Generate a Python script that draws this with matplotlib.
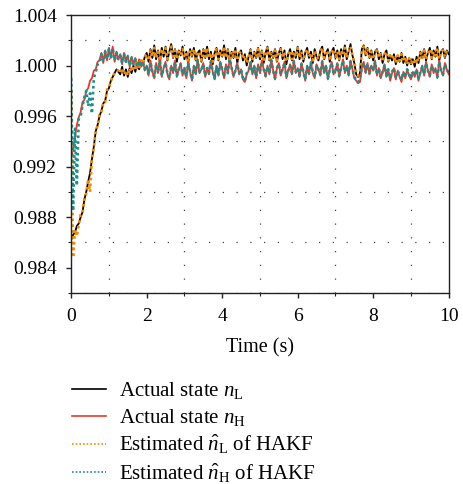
import numpy as np
import matplotlib
matplotlib.use("Agg")
import matplotlib.pyplot as plt
from matplotlib.ticker import MultipleLocator, FormatStrFormatter

# sampling step of the simulation (s)
dt = 0.05

# all series are deviations from 1.0 in units of 1e-4
n_l_dev = [
    # 0 - 1.25 s, rise
    -138, -134, -132, -127, -125, -120, -116, -106, -100, -92, -85, -74, -64,
    -52, -47, -40, -36, -30, -28, -20, -18, -12, -9, -6, -3, -5,
    # 1.3 - 1.95 s
    -7, -1, -8, -3, -9, -2, -6, 0, -5, 2, -3, 4, 1, 7,
    # 2.0 - 10.0 s
    10, 3, 13, 6, 16, 5, 12, 2, 14, 7,
    15, 4, 11, 17, 6, 13, 3, 12, 8, 15,
    5, 11, 2, 13, 7, 14, 4, 10, 12, 3,
    13, 6, 15, 5, 11, 1, 10, 14, 4, 12,
    7, 16, 5, 13, 3, 11, 6, 14, 2, 10,
    12, 4, 9, 0, 7, 13, 3, 11, 6, 14,
    5, 12, 2, 10, 15, 4, 11, 6, 13, 3,
    10, 14, 5, 12, 1, 9, 13, 4, 11, 6,
    15, 5, 12, 3, 10, 14, 6, 11, 2, 13,
    7, 4, 12, 15, 5, 10, 13, 3, 11, 14,
    6, 12, 4, 13, 7, 16, 5, 11, 17, 8,
    2, -7, -9, -6, 13, 16, 8, 14, 6, 12,
    4, 11, 13, 5, 10, 2, 9, 12, 3, 8,
    4, 9, 1, 8, 3, 10, 2, 7, 0, 6,
    1, 5, -1, 7, 2, 11, 6, 13, 4, 10,
    14, 5, 12, 7, 15, 4, 11, 13, 6, 12, 9,
]

n_h_dev = [
    -74, -65, -57, -47, -41, -37, -29, -27, -20, -18, -12, -10, -4, -3, 3, 4,
    10, 2, 12, 4, 14, 6, 15, 3, 11, 5,
    9, 1, 10, 3, 8, -1, 7, 1, 6, -2, 5, -1, 4, -4,
    0, -8, 4, -5, -10, 2, -6, 5, -9, -2,
    3, -7, -11, 0, -6, 4, -9, -3, 2, -8,
    -2, -10, 3, -5, -12, 0, -7, 5, -6, -3,
    2, -9, -2, -7, 4, -5, -11, 0, -8, 3,
    -3, -10, 1, -6, 6, -2, -9, -4, 2, -7,
    -3, -11, -13, -7, -4, 3, -7, 0, -10, 1,
    -6, 4, -3, -9, 0, -7, 5, -4, -11, -2,
    2, -8, -3, 3, -10, -4, 1, -7, 4, -6,
    -2, -9, 2, -5, -12, 0, -7, 3, -6, -10,
    1, -3, -8, 4, -6, 0, -11, -3, 3, -7,
    -4, 2, -9, -2, 5, -6, 0, -8, 4, -3,
    -10, -12, -14, -13, -2, 3, -6, 2, -7, 0,
    -4, 4, -8, -2, -10, -5, 1, -9, -3, -12,
    -6, -2, -11, -4, -9, -13, -5, -10, -3, -8,
    -11, -5, -9, -3, -12, -6, 0, -8, 3, -4,
    -9, 1, -6, -2, -10, 4, -4, -8, 2, -3, -7,
]

n_l_hat_dev = [
    -20, -152, -130, -135, -126, -118, -117, -105, -101, -90, -100, -73, -65,
    -51, -48, -39, -37, -29, -29, -19, -17, -13, -8, -6, -4, -4,
    -6, -2, -7, -4, -8, -2, -5, 0, -4, 2, -2, 4, 2, 7,
    9, 4, 12, 7, 14, 6, 11, 4, 13, 8,
    14, 5, 12, 15, 7, 12, 5, 11, 8, 13,
    6, 11, 3, 12, 8, 13, 5, 10, 11, 4,
    12, 7, 14, 6, 10, 3, 10, 13, 5, 11,
    8, 15, 6, 12, 4, 11, 7, 13, 4, 10,
    11, 5, 8, 2, 7, 12, 4, 10, 7, 13,
    6, 11, 3, 10, 14, 5, 10, 7, 12, 4,
    10, 13, 6, 11, 3, 9, 12, 5, 11, 7,
    14, 6, 11, 4, 10, 13, 7, 10, 4, 12,
    7, 5, 11, 14, 6, 10, 12, 4, 11, 13,
    7, 11, 5, 12, 8, 14, 6, 11, 15, 8,
    3, -5, -8, -5, 11, 15, 8, 13, 7, 11,
    5, 10, 12, 6, 9, 3, 9, 11, 4, 8,
    5, 8, 2, 8, 4, 9, 3, 7, 1, 6,
    2, 5, 1, 6, 3, 10, 6, 12, 5, 10,
    13, 6, 11, 8, 14, 5, 11, 12, 7, 11, 9,
]

n_h_hat_dev = [
    -10, -115, -50, -95, -42, -40, -32, -25, -20, -32, -22, -38, -10, -5, 1, 3,
    9, 3, 11, 5, 13, 6, 14, 4, 10, 5,
    8, 2, 9, 3, 7, 0, 6, 1, 5, -1, 4, -1, 3, -3,
    0, -7, 3, -5, -9, 1, -5, 4, -8, -2,
    2, -6, -10, 0, -5, 3, -8, -3, 1, -7,
    -2, -9, 2, -5, -11, -1, -6, 4, -5, -3,
    1, -8, -2, -6, 3, -5, -10, -1, -7, 2,
    -3, -9, 0, -6, 5, -2, -8, -4, 1, -6,
    -3, -10, -12, -6, -4, 2, -6, -1, -9, 0,
    -5, 3, -3, -8, -1, -6, 4, -4, -10, -2,
    1, -7, -3, 2, -9, -4, 0, -6, 3, -5,
    -2, -8, 1, -5, -11, -1, -6, 2, -5, -9,
    0, -3, -7, 3, -5, -1, -10, -3, 2, -6,
    -4, 1, -8, -2, 4, -5, -1, -7, 3, -3,
    -9, -11, -13, -11, -1, 2, -5, 1, -6, -1,
    -4, 3, -7, -2, -9, -5, 0, -8, -3, -10,
    -5, -2, -10, -4, -8, -11, -5, -9, -3, -7,
    -10, -5, -8, -3, -10, -5, -1, -7, 2, -4,
    -8, 0, -5, -2, -9, 3, -4, -7, 1, -3, -6,
]

labels = [
    r"Actual state $n_\mathrm{L}$",
    r"Actual state $n_\mathrm{H}$",
    r"Estimated $\hat{n}_\mathrm{L}$ of HAKF",
    r"Estimated $\hat{n}_\mathrm{H}$ of HAKF",
]
colors = ["#000000", "#e8392a", "#f58a07", "#1f8e8a"]
styles = ["-", "-", (0, (1, 1.2)), (0, (1, 1.2))]
widths = [1.3, 1.3, 1.9, 1.9]

plt.rcParams["font.family"] = ["Liberation Serif", "DejaVu Serif"]
plt.rcParams["mathtext.fontset"] = "custom"
plt.rcParams["mathtext.rm"] = "Liberation Serif"
plt.rcParams["mathtext.it"] = "Liberation Serif:italic"

series = [n_l_dev, n_h_dev, n_l_hat_dev, n_h_hat_dev]
n = len(n_l_dev)
assert all(len(s) == n for s in series), [len(s) for s in series]
t = np.arange(n) * dt

fig = plt.figure(figsize=(4.64, 4.84), dpi=100)
ax = fig.add_axes([0.1534, 0.3946, 0.8136, 0.5744])

lines = []
for s, c, ls, lw, lab in zip(series, colors, styles, widths, labels):
    y = 1.0 + np.array(s) * 1e-4
    ln, = ax.plot(t, y, color=c, linestyle=ls, linewidth=lw, label=lab)
    lines.append(ln)

ax.set_xlim(0, 10)
ax.set_ylim(0.982, 1.004)
ax.xaxis.set_major_locator(MultipleLocator(2))
ax.xaxis.set_minor_locator(MultipleLocator(1))
ax.yaxis.set_major_locator(MultipleLocator(0.004))
ax.yaxis.set_minor_locator(MultipleLocator(0.002))
ax.yaxis.set_major_formatter(FormatStrFormatter("%.3f"))

# grid only on the minor positions
ax.grid(which="minor", color="#444444", linestyle=(0, (1, 10)), linewidth=0.9)
ax.tick_params(which="major", direction="out", length=3.5, width=1.0,
               labelsize=14, pad=7, color="#222222")
ax.tick_params(which="minor", direction="out", length=2, width=0.8,
               color="#222222")
for sp in ax.spines.values():
    sp.set_linewidth(1.0)
    sp.set_color("#222222")

ax.set_xlabel("Time (s)", fontsize=14.5, labelpad=10)

leg = fig.legend(handles=lines, loc="upper left", bbox_to_anchor=(0.155, 0.214),
                 frameon=False, fontsize=15, handlelength=1.65, handletextpad=0.62,
                 labelspacing=0.27, borderpad=0, borderaxespad=0)
for h in leg.legend_handles:
    h.set_linewidth(1.2)

fig.savefig("out.png", dpi=100)
